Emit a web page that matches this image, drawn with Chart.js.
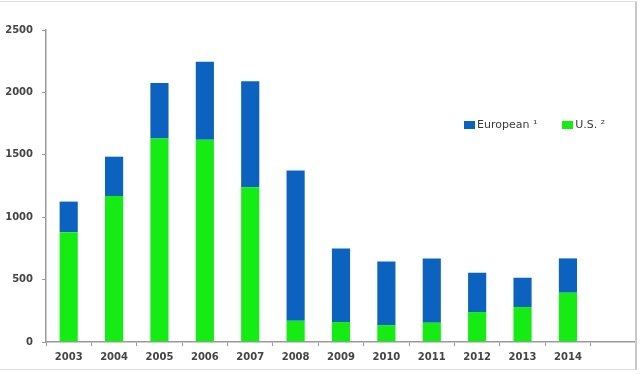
<!DOCTYPE html>
<html>
<head>
<meta charset="utf-8">
<script src="https://cdn.jsdelivr.net/npm/chart.js@4/dist/chart.umd.min.js"></script>
<style>
    html, body {
        margin: 0;
        padding: 0;
        background: #fff;
    }
    #wrap {
        position: relative;
        width: 640px;
        height: 374px;
        overflow: hidden;
    }
    #frame {
        position: absolute;
        left: -3px;
        top: 1px;
        width: 640px;
        height: 369px;
        box-sizing: border-box;
        border: 1px solid #e2e2e2;
        border-right: 2px solid #c8c8c8;
        pointer-events: none;
    }
    #legend {
        position: absolute;
        left: 464px;
        top: 118px;
        font: 11px "DejaVu Sans", sans-serif;
        color: #3a3a3a;
        white-space: nowrap;
    }
    #legend span.item {
        display: inline-flex;
        align-items: center;
        margin-right: 25px;
    }
    #legend span.box {
        display: inline-block;
        width: 11px;
        height: 8px;
        margin-right: 2px;
    }
</style>
</head>
<body>
<div id="wrap">
    <canvas id="chart" width="640" height="374"></canvas>
    <div id="frame"></div>
    <div id="legend"></div>
</div>
<script>
// Years on the x axis (an empty slot follows 2014 in the original).
const years = ["2003", "2004", "2005", "2006", "2007", "2008",
               "2009", "2010", "2011", "2012", "2013", "2014"];

// U.S. part (bottom of each bar).
const usValues = [880, 1170, 1630, 1620, 1240, 170, 160, 135, 155, 240, 280, 395];

// European part (stacked on top).
const europeanValues = [245, 315, 445, 625, 850, 1205, 590, 510, 515, 315, 235, 275];

const yTicks = [0, 500, 1000, 1500, 2000, 2500];

const blue = "#0b63bf";
const green = "#14ec14";
const axisGray = "#9a9a9a";

// Legend is drawn as html so it can sit inside the plot like the original.
const legendItems = [
    { label: "European ¹", color: blue },
    { label: "U.S. ²", color: green },
];
const legend = document.getElementById("legend");
legendItems.forEach((item) => {
    const el = document.createElement("span");
    el.className = "item";
    el.innerHTML = '<span class="box" style="background:' + item.color + '"></span>' + item.label;
    legend.appendChild(el);
});

const tickFont = { family: "DejaVu Sans", size: 10, weight: "bold" };

new Chart(document.getElementById("chart"), {
    type: "bar",
    data: {
        labels: [...years, ""],
        datasets: [
            {
                label: "U.S. ²",
                data: usValues,
                backgroundColor: green,
                barPercentage: 0.4,
                categoryPercentage: 1,
            },
            {
                label: "European ¹",
                data: europeanValues,
                backgroundColor: blue,
                barPercentage: 0.4,
                categoryPercentage: 1,
            },
        ],
    },
    options: {
        responsive: false,
        animation: false,
        layout: {
            padding: { top: 30, right: 4, left: 0, bottom: 0 },
        },
        plugins: {
            legend: { display: false },
            tooltip: { enabled: false },
        },
        scales: {
            x: {
                stacked: true,
                offset: true,
                grid: {
                    offset: true,
                    drawOnChartArea: false,
                    drawTicks: true,
                    tickLength: 4,
                    color: axisGray,
                },
                border: { color: axisGray, width: 1.5 },
                ticks: {
                    color: "#444",
                    font: tickFont,
                    padding: 5,
                    maxRotation: 0,
                    autoSkip: false,
                },
                afterFit: (scale) => {
                    scale.height = 32;
                },
            },
            y: {
                stacked: true,
                min: 0,
                max: 2500,
                afterBuildTicks: (scale) => {
                    scale.ticks = yTicks.map((v) => ({ value: v }));
                },
                grid: {
                    drawOnChartArea: false,
                    drawTicks: true,
                    tickLength: 4,
                    color: axisGray,
                },
                border: { color: axisGray, width: 1.5 },
                ticks: {
                    color: "#444",
                    font: tickFont,
                    padding: 9,
                    callback: (value) => String(value),
                },
                afterFit: (scale) => {
                    scale.width = 46;
                },
            },
        },
    },
});
</script>
</body>
</html>
